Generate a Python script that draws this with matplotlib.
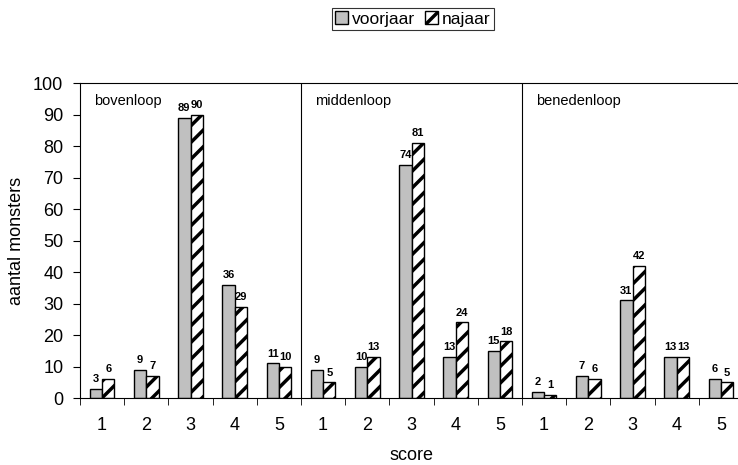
import numpy as np
import matplotlib
matplotlib.use("Agg")
import matplotlib.pyplot as plt

plt.rcParams['font.family'] = ['Liberation Sans', 'DejaVu Sans']
plt.rcParams['hatch.linewidth'] = 2.5

# data
groups = ["bovenloop", "middenloop", "benedenloop"]
scores = ["1", "2", "3", "4", "5"]
voorjaar = [3, 9, 89, 36, 11,
            9, 10, 74, 13, 15,
            2, 7, 31, 13, 6]
najaar = [6, 7, 90, 29, 10,
          5, 13, 81, 24, 18,
          1, 6, 42, 13, 5]

n = len(voorjaar)
x = np.arange(n)
w = 0.28

fig = plt.figure(figsize=(7.38, 4.65), dpi=100)
# axes runs a bit past the right edge, as in the original
ax = fig.add_axes([80 / 738, 1 - 398 / 465, 663 / 738, 315 / 465])

b1 = ax.bar(x - w / 2, voorjaar, w, color="#c0c0c0", edgecolor="black", linewidth=1, label="voorjaar")
b2 = ax.bar(x + w / 2, najaar, w, color="white", edgecolor="black", linewidth=1, hatch="//", label="najaar")

for rect, v in zip(b1, voorjaar):
    ax.text(rect.get_x() + rect.get_width() / 2, v + 1.5, str(v), ha="center", va="bottom",
            fontsize=8, fontweight="bold")
for rect, v in zip(b2, najaar):
    ax.text(rect.get_x() + rect.get_width() / 2, v + 1.5, str(v), ha="center", va="bottom",
            fontsize=8, fontweight="bold")

ax.set_xlim(-0.5, n - 0.5)
ax.set_ylim(0, 100)
ax.set_yticks(np.arange(0, 101, 10))

ax.set_xticks(x)
ax.set_xticklabels(scores * len(groups))
ax.set_xticks(np.arange(-0.5, n, 1), minor=True)
ax.tick_params(axis="x", which="major", length=0, pad=14, labelsize=13)
ax.tick_params(axis="x", which="minor", length=5, direction="out")
ax.tick_params(axis="y", labelsize=13, length=5, pad=7, direction="out")

# group separators and titles
for i, g in enumerate(groups):
    if i > 0:
        ax.axvline(i * 5 - 0.5, color="black", linewidth=0.8)
    ax.text(i * 5 - 0.18, 96.5, g, ha="left", va="top", fontsize=10.5)

for s in ax.spines.values():
    s.set_linewidth(0.8)

ax.set_xlabel("score", fontsize=13, labelpad=9)
ax.set_ylabel("aantal monsters", fontsize=13, labelpad=6)

leg = ax.legend(loc="center", bbox_to_anchor=(413 / 738, 1 - 19 / 465),
                bbox_transform=fig.transFigure, ncol=2, fontsize=12.5,
                frameon=True, fancybox=False, edgecolor="black",
                handlelength=0.75, handleheight=0.75, handletextpad=0.2,
                columnspacing=0.6, borderpad=0.2, borderaxespad=0)
leg.get_frame().set_linewidth(0.8)

fig.savefig("out.png", dpi=100)
